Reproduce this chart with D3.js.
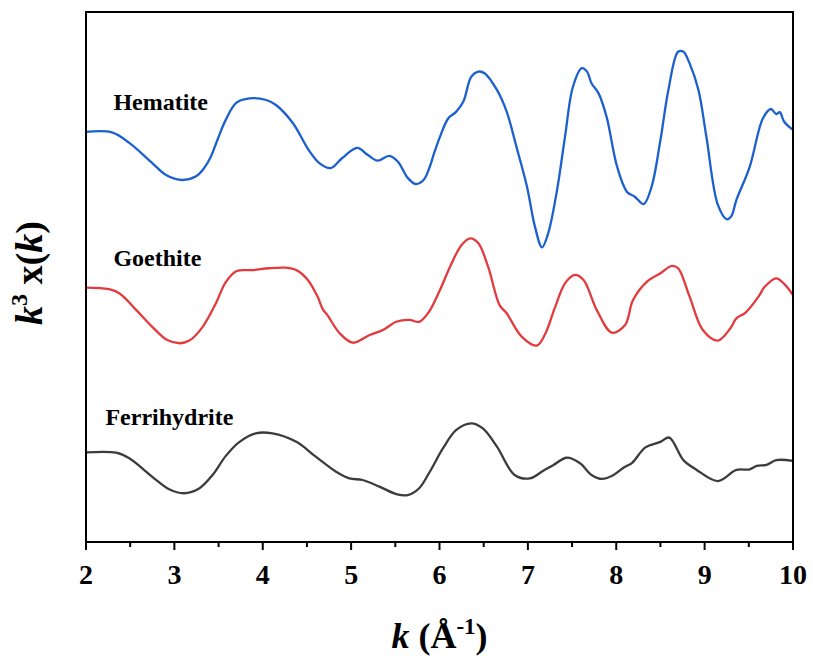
<!DOCTYPE html>
<html>
<head>
<meta charset="utf-8">
<script src="https://cdn.jsdelivr.net/npm/d3@7"></script>
<style>
  html, body { margin: 0; padding: 0; background: #fff; }
</style>
</head>
<body>
<svg id="chart" width="813" height="659"></svg>
<script>
// ---- data (k in Å^-1, chi in arbitrary units before offset) ----
const xTicks = [2, 3, 4, 5, 6, 7, 8, 9, 10];
const seriesNames = ["Hematite", "Goethite", "Ferrihydrite"];
const seriesColors = ["#1c5fcf", "#e33b3d", "#3c3c3c"];
const seriesOffsets = [5.5, -0.4, -6.6];

const hematiteK = [2.00,2.30,2.49,2.75,2.905,3.09,3.245,3.33,3.41,3.49,3.58,3.70,3.85,4.04,4.15,4.34,4.52,4.64,4.77,4.90,5.07,5.19,5.30,5.43,5.53,5.64,5.73,5.82,5.89,5.94,6.005,6.10,6.19,6.27,6.36,6.44,6.51,6.65,6.76,6.87,6.99,7.08,7.16,7.23,7.33,7.42,7.51,7.61,7.67,7.72,7.80,7.89,8.01,8.12,8.21,8.31,8.40,8.50,8.59,8.70,8.76,8.83,8.93,9.02,9.15,9.25,9.30,9.36,9.51,9.66,9.75,9.81,9.85,9.90,10.0];
const hematiteChi = [-0.02,-0.05,-0.44,-1.20,-1.65,-1.84,-1.70,-1.42,-0.98,-0.30,0.42,1.07,1.24,1.18,0.99,0.31,-0.71,-1.20,-1.39,-1.01,-0.63,-0.90,-1.11,-0.93,-1.15,-1.76,-1.99,-1.84,-1.34,-0.82,-0.21,0.49,0.74,1.12,2.06,2.25,2.19,1.56,0.74,-0.58,-2.09,-3.60,-4.38,-3.85,-2.22,-0.21,1.68,2.38,2.25,1.81,1.43,0.55,-1.34,-2.28,-2.47,-2.75,-2.09,-0.33,1.56,3.00,3.00,2.56,1.56,-0.21,-2.78,-3.32,-3.22,-2.59,-1.34,0.49,0.84,0.65,0.72,0.36,0.05];

const goethiteK = [2.00,2.26,2.38,2.57,2.75,2.92,3.06,3.17,3.32,3.47,3.58,3.70,3.89,4.07,4.26,4.38,4.51,4.62,4.68,4.73,4.87,5.02,5.21,5.36,5.51,5.66,5.77,5.88,6.005,6.12,6.25,6.35,6.44,6.55,6.68,6.76,6.93,7.10,7.19,7.31,7.42,7.53,7.63,7.78,7.95,8.10,8.19,8.36,8.50,8.63,8.70,8.83,8.98,9.15,9.29,9.36,9.46,9.61,9.68,9.81,9.90,10.0];
const goethiteChi = [0.00,-0.06,-0.22,-0.85,-1.48,-1.98,-2.10,-2.00,-1.48,-0.59,0.20,0.62,0.66,0.73,0.75,0.66,0.29,-0.34,-0.82,-1.03,-1.72,-2.08,-1.79,-1.60,-1.29,-1.22,-1.29,-0.92,-0.09,0.79,1.61,1.86,1.67,0.79,-0.66,-0.97,-1.85,-2.19,-1.79,-0.72,0.16,0.48,0.29,-0.85,-1.70,-1.41,-0.47,0.26,0.54,0.82,0.73,-0.34,-1.60,-2.00,-1.54,-1.16,-0.95,-0.34,0.03,0.35,0.14,-0.28];

const ferrihydriteK = [2.00,2.34,2.49,2.75,2.94,3.11,3.28,3.43,3.58,3.73,3.92,4.11,4.38,4.60,4.83,4.98,5.13,5.32,5.51,5.64,5.77,5.89,6.04,6.19,6.36,6.49,6.65,6.85,7.02,7.17,7.29,7.44,7.59,7.72,7.84,7.97,8.09,8.18,8.33,8.50,8.60,8.76,8.91,9.15,9.36,9.51,9.59,9.70,9.81,10.0];
const ferrihydriteChi = [-0.02,-0.03,-0.24,-0.94,-1.41,-1.56,-1.38,-0.88,-0.16,0.36,0.70,0.70,0.38,-0.18,-0.75,-1.00,-1.06,-1.31,-1.59,-1.63,-1.37,-0.75,0.14,0.83,1.08,0.89,0.20,-0.87,-1.00,-0.72,-0.49,-0.22,-0.43,-0.87,-1.02,-0.87,-0.58,-0.41,0.17,0.38,0.54,-0.31,-0.68,-1.10,-0.68,-0.66,-0.53,-0.49,-0.31,-0.34];

const seriesK = [hematiteK, goethiteK, ferrihydriteK];
const seriesChi = [hematiteChi, goethiteChi, ferrihydriteChi];
const labelK = [2.31, 2.31, 2.22];
const labelChi = [0.80, 0.82, 1.02];

// ---- layout ----
const FONT = "'Liberation Serif', 'Times New Roman', Times, 'DejaVu Serif', serif";
const svg = d3.select("#chart").attr("font-family", FONT).attr("font-weight", "bold");
const margin = { left: 86, top: 12, right: 20, bottom: 117 };
const W = 813, H = 659;
const iw = W - margin.left - margin.right;
const ih = H - margin.top - margin.bottom;

const x = d3.scaleLinear().domain([2, 10]).range([margin.left, margin.left + iw]);
const y = d3.scaleLinear().domain([-10, 10]).range([margin.top + ih, margin.top]);

const g = svg.append("g");

// curves
const line = d3.line().curve(d3.curveCatmullRom.alpha(0.5));
seriesNames.forEach((name, i) => {
  const pts = seriesK[i].map((k, j) => [x(k), y(seriesChi[i][j] + seriesOffsets[i])]);
  g.append("path")
    .attr("d", line(pts))
    .attr("fill", "none")
    .attr("stroke", seriesColors[i])
    .attr("stroke-width", 2.3)
    .attr("stroke-linejoin", "round");
  g.append("text")
    .attr("x", x(labelK[i]))
    .attr("y", y(seriesOffsets[i] + labelChi[i]))
    .attr("font-family", FONT)
    .attr("font-weight", "bold")
    .attr("font-size", 24)
    .attr("fill", "#000")
    .text(name);
});

// frame
g.append("rect")
  .attr("x", margin.left).attr("y", margin.top)
  .attr("width", iw).attr("height", ih)
  .attr("fill", "none").attr("stroke", "#000").attr("stroke-width", 2);

// bottom axis
const minor = d3.range(2.5, 10, 1);
const axis = g.append("g").attr("transform", `translate(0,${margin.top + ih})`);
axis.selectAll("line.major").data(xTicks).join("line")
  .attr("class", "major")
  .attr("x1", d => x(d)).attr("x2", d => x(d))
  .attr("y1", 0).attr("y2", 8)
  .attr("stroke", "#000").attr("stroke-width", 2);
axis.selectAll("line.minor").data(minor).join("line")
  .attr("class", "minor")
  .attr("x1", d => x(d)).attr("x2", d => x(d))
  .attr("y1", 0).attr("y2", 5)
  .attr("stroke", "#000").attr("stroke-width", 2);
axis.selectAll("text").data(xTicks).join("text")
  .attr("x", d => x(d)).attr("y", 42)
  .attr("text-anchor", "middle")
  .attr("font-family", FONT)
  .attr("font-weight", "bold")
  .attr("font-size", 28)
  .text(d => d);

// x title
const xt = svg.append("text")
  .attr("x", x(6)).attr("y", 648)
  .attr("text-anchor", "middle")
  .attr("font-family", FONT)
  .attr("font-weight", "bold")
  .attr("font-size", 36);
xt.append("tspan").attr("font-style", "italic").text("k");
xt.append("tspan").text(" (Å");
xt.append("tspan").attr("font-size", 23).attr("dy", -14).text("-1");
xt.append("tspan").attr("dy", 14).text(")");

// y title
const yt = svg.append("text")
  .attr("transform", `translate(42,273) rotate(-90)`)
  .attr("text-anchor", "middle")
  .attr("font-family", FONT)
  .attr("font-weight", "bold")
  .attr("font-size", 38);
yt.append("tspan").attr("font-style", "italic").text("k");
yt.append("tspan").attr("font-size", 24).attr("dy", -15).text("3");
yt.append("tspan").attr("dy", 15).text(" x(");
yt.append("tspan").attr("font-style", "italic").text("k");
yt.append("tspan").text(")");
</script>
</body>
</html>
